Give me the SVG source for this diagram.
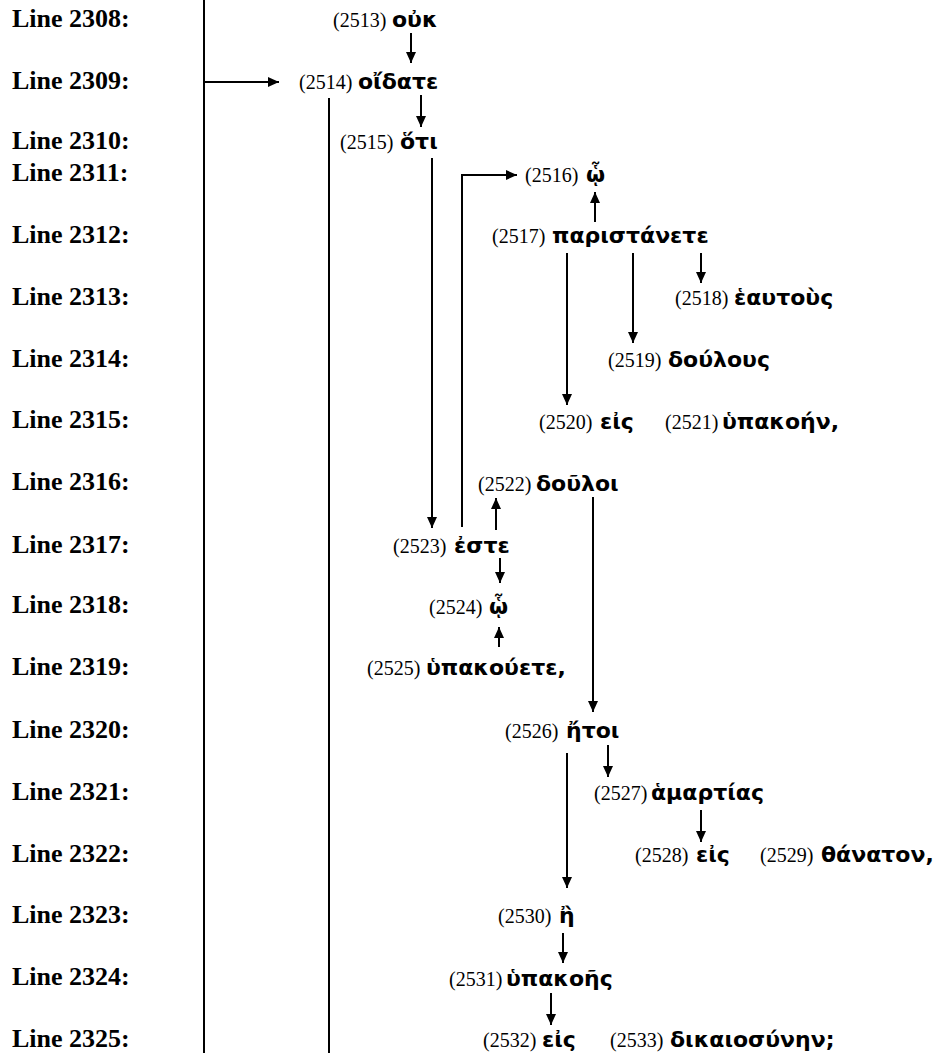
<svg xmlns="http://www.w3.org/2000/svg" width="934" height="1053" viewBox="0 0 934 1053">
<style>
.lbl{font-family:"Liberation Serif","Times New Roman",serif;font-weight:bold;font-size:26px;fill:#000}
.n{font-family:"Liberation Serif","Times New Roman",serif;font-size:20px;fill:#000}
.g{font-family:"DejaVu Sans","Noto Sans",sans-serif;font-weight:bold;font-size:22px;fill:#000}
.c{stroke:#000;stroke-width:2;fill:none}
.a{stroke:#000;stroke-width:2;fill:none;marker-end:url(#ah)}
</style>
<defs>
<marker id="ah" markerUnits="userSpaceOnUse" markerWidth="11" markerHeight="10" refX="11" refY="5" orient="auto">
<path d="M0,0 L11,5 L0,10 z" fill="#000"/>
</marker>
</defs>
<rect width="934" height="1053" fill="#fff"/>
<g id="line-labels">
<text class="lbl" x="12" y="27">Line 2308:</text>
<text class="lbl" x="12" y="89">Line 2309:</text>
<text class="lbl" x="12" y="149">Line 2310:</text>
<text class="lbl" x="12" y="181">Line 2311:</text>
<text class="lbl" x="12" y="243">Line 2312:</text>
<text class="lbl" x="12" y="305">Line 2313:</text>
<text class="lbl" x="12" y="367">Line 2314:</text>
<text class="lbl" x="12" y="428">Line 2315:</text>
<text class="lbl" x="12" y="490">Line 2316:</text>
<text class="lbl" x="12" y="553">Line 2317:</text>
<text class="lbl" x="12" y="613">Line 2318:</text>
<text class="lbl" x="12" y="675">Line 2319:</text>
<text class="lbl" x="12" y="738">Line 2320:</text>
<text class="lbl" x="12" y="800">Line 2321:</text>
<text class="lbl" x="12" y="862">Line 2322:</text>
<text class="lbl" x="12" y="923">Line 2323:</text>
<text class="lbl" x="12" y="985">Line 2324:</text>
<text class="lbl" x="12" y="1047">Line 2325:</text>
</g>
<g id="n2513"><text class="n" x="333" y="27">(2513)</text><text class="g" x="392" y="27">οὐκ</text></g>
<g id="n2514"><text class="n" x="299" y="89">(2514)</text><text class="g" x="358" y="89">οἴδατε</text></g>
<g id="n2515"><text class="n" x="340" y="149">(2515)</text><text class="g" x="400" y="149">ὅτι</text></g>
<g id="n2516"><text class="n" x="525" y="182">(2516)</text><text class="g" x="586" y="182">ᾧ</text></g>
<g id="n2517"><text class="n" x="492" y="243">(2517)</text><text class="g" x="552" y="243">παριστάνετε</text></g>
<g id="n2518"><text class="n" x="675" y="305">(2518)</text><text class="g" x="734" y="305">ἑαυτοὺς</text></g>
<g id="n2519"><text class="n" x="608" y="367">(2519)</text><text class="g" x="668" y="367">δούλους</text></g>
<g id="n2520"><text class="n" x="539" y="429">(2520)</text><text class="g" x="600" y="429">εἰς</text></g>
<g id="n2521"><text class="n" x="665" y="429">(2521)</text><text class="g" x="722" y="429">ὑπακοήν,</text></g>
<g id="n2522"><text class="n" x="478" y="491">(2522)</text><text class="g" x="536" y="491">δοῦλοι</text></g>
<g id="n2523"><text class="n" x="393" y="553">(2523)</text><text class="g" x="454" y="553">ἐστε</text></g>
<g id="n2524"><text class="n" x="429" y="614">(2524)</text><text class="g" x="489" y="614">ᾧ</text></g>
<g id="n2525"><text class="n" x="367" y="675">(2525)</text><text class="g" x="426" y="675">ὑπακούετε,</text></g>
<g id="n2526"><text class="n" x="505" y="738">(2526)</text><text class="g" x="566" y="738">ἤτοι</text></g>
<g id="n2527"><text class="n" x="594" y="800">(2527)</text><text class="g" x="651" y="800">ἁμαρτίας</text></g>
<g id="n2528"><text class="n" x="635" y="862">(2528)</text><text class="g" x="696" y="862">εἰς</text></g>
<g id="n2529"><text class="n" x="760" y="862">(2529)</text><text class="g" x="821" y="862">θάνατον,</text></g>
<g id="n2530"><text class="n" x="498" y="923">(2530)</text><text class="g" x="559" y="923">ἢ</text></g>
<g id="n2531"><text class="n" x="449" y="986">(2531)</text><text class="g" x="506" y="986">ὑπακοῆς</text></g>
<g id="n2532"><text class="n" x="483" y="1047">(2532)</text><text class="g" x="542" y="1047">εἰς</text></g>
<g id="n2533"><text class="n" x="610" y="1047">(2533)</text><text class="g" x="670" y="1047">δικαιοσύνην;</text></g>
<g id="connectors">
<line class="c" x1="204" y1="0" x2="204" y2="1053"/>
<line class="a" x1="204" y1="82" x2="279" y2="82"/>
<line class="a" x1="411" y1="33" x2="411" y2="63"/>
<line class="a" x1="421" y1="95" x2="421" y2="127"/>
<line class="c" x1="329" y1="98" x2="329" y2="1053"/>
<line class="a" x1="432" y1="158" x2="432" y2="528"/>
<polyline class="a" points="462,527 462,175 517,175"/>
<line class="a" x1="595" y1="222" x2="595" y2="192"/>
<line class="a" x1="701" y1="253" x2="701" y2="283"/>
<line class="a" x1="633" y1="253" x2="633" y2="343"/>
<line class="a" x1="567" y1="253" x2="567" y2="405"/>
<line class="a" x1="496" y1="530" x2="496" y2="498"/>
<line class="a" x1="593" y1="497" x2="593" y2="712"/>
<line class="a" x1="500" y1="558" x2="500" y2="583"/>
<line class="a" x1="499" y1="647" x2="499" y2="627"/>
<line class="a" x1="608" y1="745" x2="608" y2="777"/>
<line class="a" x1="567" y1="753" x2="567" y2="888"/>
<line class="a" x1="701" y1="810" x2="701" y2="842"/>
<line class="a" x1="563" y1="933" x2="563" y2="963"/>
<line class="a" x1="551" y1="993" x2="551" y2="1025"/>
</g>
</svg>
